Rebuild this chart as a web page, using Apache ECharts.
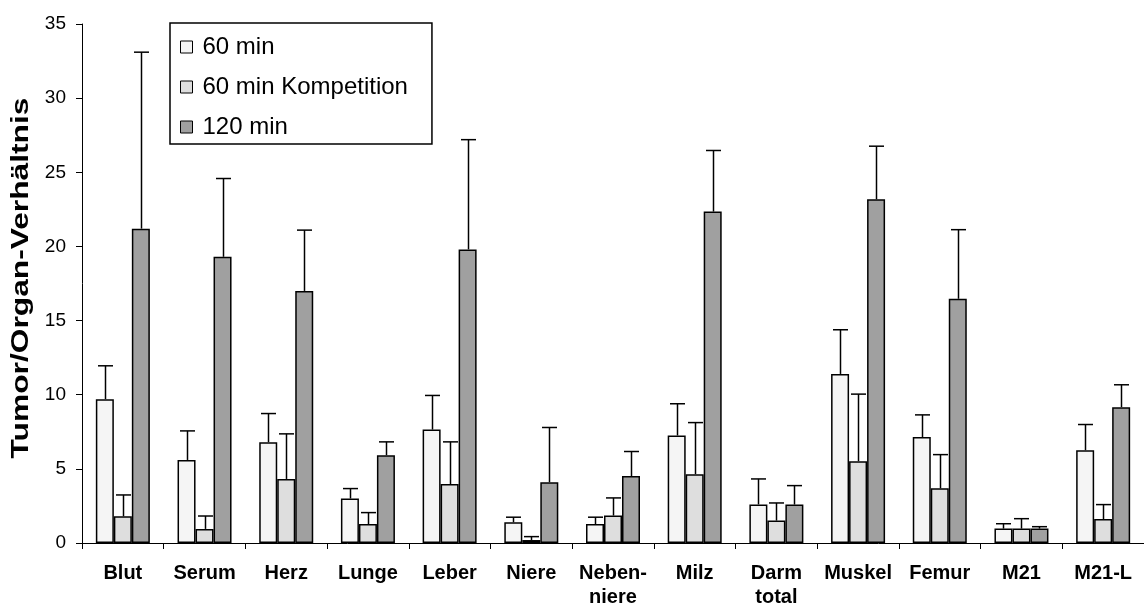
<!DOCTYPE html>
<html>
<head>
<meta charset="utf-8">
<script src="https://cdn.jsdelivr.net/npm/echarts@6/dist/echarts.min.js"></script>
<style>html,body{margin:0;padding:0;background:#fff}#c{width:1144px;height:613px}</style>
</head>
<body>
<div id="c"></div>
<script>
var categories = ['Blut','Serum','Herz','Lunge','Leber','Niere','Neben-\nniere','Milz','Darm\ntotal','Muskel','Femur','M21','M21-L'];
var seriesNames = ['60 min','60 min Kompetition','120 min'];
var v60 = [9.7,5.6,6.8,3.0,7.65,1.4,1.28,7.25,2.6,11.4,7.14,0.97,6.26];
var e60 = [11.95,7.56,8.73,3.67,9.95,1.74,1.74,9.39,4.32,14.38,8.64,1.3,7.99];
var v60k = [1.8,0.95,4.32,1.28,3.98,0.2,1.85,4.64,1.51,5.52,3.69,0.97,1.62];
var e60k = [3.24,1.82,7.36,2.05,6.82,0.43,3.04,8.12,2.7,10.04,5.96,1.64,2.59];
var v120 = [21.2,19.3,17.0,5.92,19.8,4.1,4.52,22.35,2.59,23.18,16.47,0.97,9.16];
var e120 = [33.1,24.58,21.1,6.82,27.2,7.79,6.17,26.47,3.87,26.76,21.13,1.1,10.67];
var yTicks = [0,5,10,15,20,25,30,35];
var yTitle = 'Tumor/Organ-Verhältnis';

var BW = 18;
var FONT = 'Liberation Sans, Arial, sans-serif';
var colors = ['#f5f5f5','#dedede','#a0a0a0'];
var vals = [v60, v60k, v120];
var errs = [e60, e60k, e120];

function errSeries(idx) {
  var data = categories.map(function(c, i){ return [i, vals[idx][i], errs[idx][i]]; });
  return {
    type: 'custom',
    silent: true,
    z: 1,
    data: data,
    encode: {x: 0, y: [1,2]},
    renderItem: function(params, api){
      var off = (idx - 1) * BW;
      var p0 = api.coord([api.value(0), api.value(1)]);
      var p1 = api.coord([api.value(0), api.value(2)]);
      var x = Math.round(p0[0] + off) + 0.5;
      return {
        type: 'group',
        children: [
          {type:'line', shape:{x1:x, y1:p0[1], x2:x, y2:p1[1]}, style:{stroke:'#000', lineWidth:1.5}},
          {type:'line', shape:{x1:x-7.5, y1:p1[1], x2:x+7.5, y2:p1[1]}, style:{stroke:'#000', lineWidth:1.5}}
        ]
      };
    }
  };
}

var series = [];
for (var k = 0; k < 3; k++) {
  series.push({
    name: seriesNames[k],
    type: 'bar',
    data: vals[k],
    barWidth: BW,
    barGap: '0%',
    z: 3,
    itemStyle: {color: colors[k], borderColor: '#000', borderWidth: 1.5}
  });
}
for (var k2 = 0; k2 < 3; k2++) series.push(errSeries(k2));

var chart = echarts.init(document.getElementById('c'));
chart.setOption({
  animation: false,
  backgroundColor: '#fff',
  textStyle: {fontFamily: FONT, color: '#000'},
  grid: {left: 82, right: 0, top: 24, bottom: 70},
  graphic: [{
    type: 'text',
    x: 22, y: 278,
    rotation: Math.PI / 2,
    scaleX: 1.38,
    style: {text: yTitle, fontSize: 23, fontWeight: 'bold', fontFamily: FONT, fill: '#000', align: 'center', verticalAlign: 'middle'}
  }],
  legend: {
    orient: 'vertical',
    left: 170, top: 23,
    data: seriesNames,
    icon: 'rect',
    itemWidth: 12, itemHeight: 12,
    itemGap: 16,
    padding: [12, 24, 5, 10],
    borderColor: '#000', borderWidth: 1.5,
    backgroundColor: '#fff',
    textStyle: {fontSize: 24, color: '#000', fontFamily: FONT, padding: [0,0,0,5]},
    itemStyle: {borderColor: '#000', borderWidth: 1}
  },
  xAxis: {
    type: 'category',
    data: categories,
    axisLine: {lineStyle: {color: '#000', width: 1}},
    axisTick: {show: true, length: 6, alignWithLabel: false, lineStyle: {color: '#000'}},
    axisLabel: {fontSize: 20, fontWeight: 'bold', color: '#000', margin: 18, lineHeight: 24, interval: 0}
  },
  yAxis: {
    type: 'value',
    min: 0, max: 35, interval: 5,
    splitLine: {show: false},
    axisLine: {show: true, lineStyle: {color: '#000', width: 1}},
    axisTick: {show: true, length: 6, lineStyle: {color: '#000'}},
    axisLabel: {fontSize: 19, color: '#000', margin: 16,
      formatter: function(v){ return yTicks.indexOf(v) >= 0 ? String(v) : ''; }}
  },
  series: series
});
</script>
</body>
</html>
